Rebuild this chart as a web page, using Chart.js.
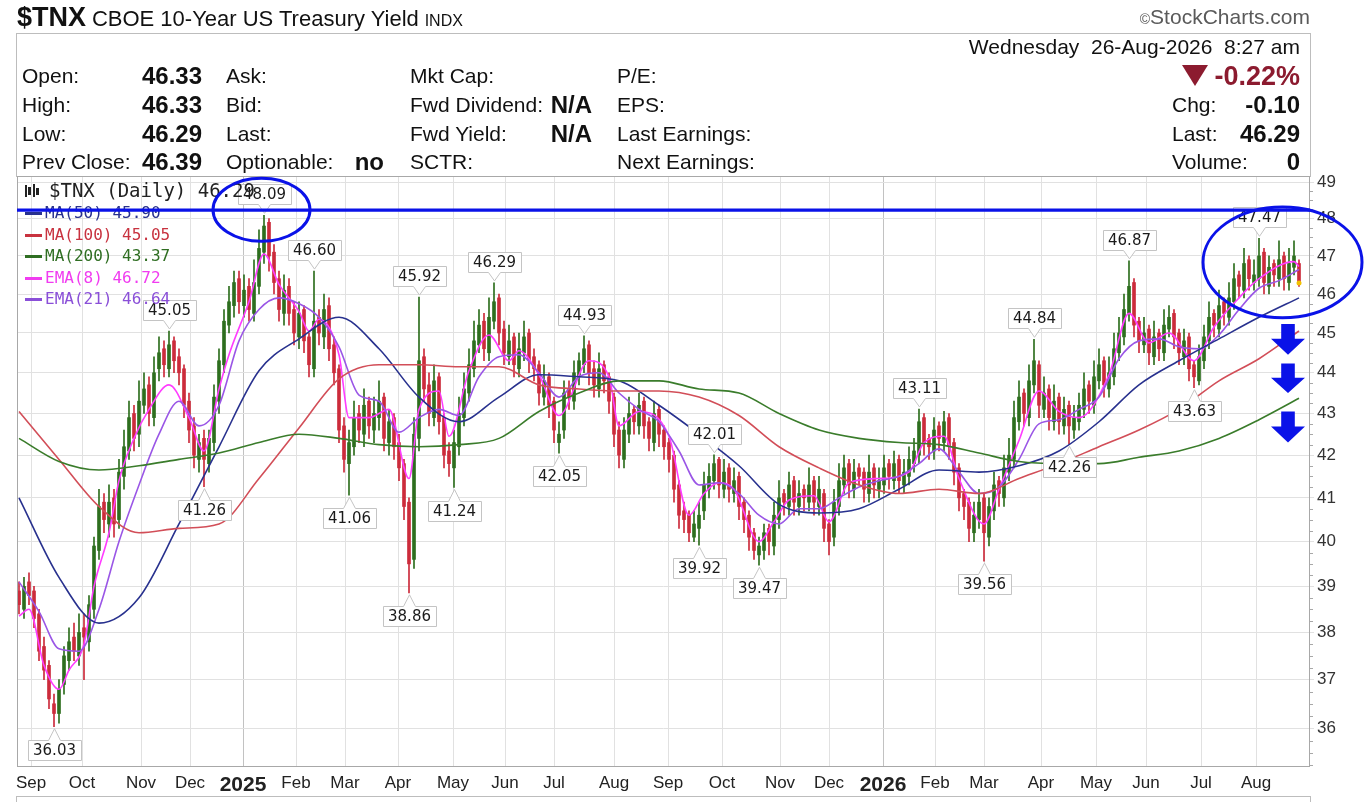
<!DOCTYPE html>
<html>
<head>
<meta charset="utf-8">
<title>$TNX CBOE 10-Year US Treasury Yield</title>
<script src="https://cdn.jsdelivr.net/npm/chart.js@4.4.1/dist/chart.umd.min.js"></script>
<style>
  html, body { margin: 0; padding: 0; background: #fff; }
  body { position: relative; width: 1372px; height: 802px; overflow: hidden;
         font-family: "Liberation Sans", Arial, sans-serif; color: #111; }
  #chartLite { position: absolute; left: 0; top: 0; }
  .box { position: absolute; left: 16px; top: 33px; width: 1293px; height: 143px;
         border: 1px solid #bdbdbd; border-bottom: none; }
  .pane { position: absolute; left: 16px; top: 796px; width: 1293px; height: 20px; border: 1px solid #bdbdbd; }
  .t { position: absolute; white-space: nowrap; line-height: 26px; height: 26px; font-size: 21px; }
  .v { font-weight: bold; font-size: 24px; }
  .chg { font-weight: bold; font-size: 27px; color: #8c1b2f; }
  .tri { display: inline-block; width: 0; height: 0; margin-right: 6px; vertical-align: -1px;
         border-left: 13px solid transparent; border-right: 13px solid transparent; border-top: 21px solid #8c1b2f; }
</style>
</head>
<body>
<canvas id="chartLite" width="1372" height="802" style="width:1372px;height:802px"></canvas>

<div class="t" style="left:17px;top:3px;line-height:29px;height:29px">
  <b style="font-size:27px">$TNX</b>
  <span style="font-size:22px">CBOE 10-Year US Treasury Yield</span>
  <span style="font-size:16px">INDX</span>
</div>
<div class="t" style="right:62px;top:4px;font-size:21px;color:#5a5a5a"><span style="font-size:14px">©</span>StockCharts.com</div>

<div class="box"></div>
<div class="t" style="right:72px;top:34px">Wednesday&nbsp; 26-Aug-2026&nbsp; 8:27 am</div>

<div class="t" style="left:22px;top:63px">Open:</div>
<div class="t v" style="right:1170px;top:63px">46.33</div>
<div class="t" style="left:226px;top:63px">Ask:</div>
<div class="t" style="left:410px;top:63px">Mkt Cap:</div>
<div class="t" style="left:617px;top:63px">P/E:</div>
<div class="t chg" style="right:72px;top:61px;line-height:30px;height:30px"><span class="tri"></span>-0.22%</div>

<div class="t" style="left:22px;top:92px">High:</div>
<div class="t v" style="right:1170px;top:92px">46.33</div>
<div class="t" style="left:226px;top:92px">Bid:</div>
<div class="t" style="left:410px;top:92px">Fwd Dividend:</div>
<div class="t v" style="right:780px;top:92px">N/A</div>
<div class="t" style="left:617px;top:92px">EPS:</div>
<div class="t" style="left:1172px;top:92px">Chg:</div>
<div class="t v" style="right:72px;top:92px">-0.10</div>

<div class="t" style="left:22px;top:121px">Low:</div>
<div class="t v" style="right:1170px;top:121px">46.29</div>
<div class="t" style="left:226px;top:121px">Last:</div>
<div class="t" style="left:410px;top:121px">Fwd Yield:</div>
<div class="t v" style="right:780px;top:121px">N/A</div>
<div class="t" style="left:617px;top:121px">Last Earnings:</div>
<div class="t" style="left:1172px;top:121px">Last:</div>
<div class="t v" style="right:72px;top:121px">46.29</div>

<div class="t" style="left:22px;top:149px">Prev Close:</div>
<div class="t v" style="right:1170px;top:149px">46.39</div>
<div class="t" style="left:226px;top:149px">Optionable:</div>
<div class="t v" style="right:988px;top:149px">no</div>
<div class="t" style="left:410px;top:149px">SCTR:</div>
<div class="t" style="left:617px;top:149px">Next Earnings:</div>
<div class="t" style="left:1172px;top:149px">Volume:</div>
<div class="t v" style="right:72px;top:149px">0</div>

<div class="pane"></div>

<script>
// x axis: one slot per candle (each candle ~2 trading days)
const monthLabels = ['Sep','Oct','Nov','Dec','2025','Feb','Mar','Apr','May','Jun','Jul','Aug',
                     'Sep','Oct','Nov','Dec','2026','Feb','Mar','Apr','May','Jun','Jul','Aug'];
const monthSlots = [2.4,12.6,24.4,34.2,44.8,55.4,65.2,75.8,86.8,97.2,107,119,
                    129.8,140.6,152.2,162,172.8,183.2,193,204.4,215.4,225.4,236.4,247.4];
const yTicks = [36,37,38,39,40,41,42,43,44,45,46,47,48,49];

const opens = [
  38.9,38.5,39.1,38.9,38.4,37.7,37.3,36.5,36.3,36.9,
  37.4,37.9,37.5,38.1,37.8,38.5,39.8,40.9,40.4,41.0,
  40.5,41.5,42.1,43.0,42.5,43.2,43.7,42.9,44.1,44.6,
  44.1,44.8,44.4,44.1,43.3,42.7,41.9,42.4,41.8,42.3,
  43.3,44.2,45.2,45.7,46.4,45.7,46.2,45.5,46.2,47.1,
  47.9,47.1,46.4,45.5,46.2,45.6,44.9,45.6,44.9,44.1,
  45.4,44.9,45.7,44.7,44.1,42.7,41.8,42.2,43.0,42.5,
  43.3,42.6,42.9,43.4,42.3,42.9,42.3,41.8,40.9,39.6,
  42.4,44.4,43.7,42.9,43.9,42.9,42.1,41.7,42.2,42.9,
  43.5,44.1,44.7,45.3,44.5,45.3,45.9,45.1,44.4,44.9,
  44.1,44.5,45.0,44.4,44.2,43.4,43.9,43.3,42.3,42.6,
  43.6,43.3,43.9,44.2,44.7,44.1,43.6,44.2,43.9,43.4,
  42.6,41.9,42.5,43.1,42.7,43.3,42.8,42.3,43.1,42.6,
  42.3,42.0,41.3,40.7,40.6,40.1,40.3,40.7,41.2,41.4,
  41.9,41.2,41.7,41.1,41.5,40.9,40.6,40.2,39.7,39.8,
  40.3,39.9,40.5,41.1,40.8,41.4,40.8,41.2,40.9,41.4,
  40.8,41.1,40.4,40.1,40.8,41.3,41.8,41.2,41.7,41.6,
  41.1,41.7,41.2,41.3,41.8,41.4,41.9,41.3,41.5,41.8,
  42.0,42.9,42.4,42.1,42.7,42.3,42.9,42.3,41.7,41.1,
  40.9,40.2,40.5,41.0,40.1,40.7,41.4,41.0,41.6,41.9,
  42.8,43.5,42.9,43.7,44.2,43.1,43.6,42.8,43.4,42.7,
  43.2,42.6,42.8,43.1,43.7,43.2,43.8,44.3,43.6,43.9,
  44.5,44.9,45.5,46.3,45.3,44.7,45.1,44.4,45.0,44.5,
  45.1,45.5,45.0,44.4,44.9,44.2,43.8,44.3,44.8,45.5,
  45.1,45.8,45.4,45.8,46.5,46.1,46.9,46.3,46.4,47.1,
  46.2,46.8,46.4,47.0,46.3,46.7,46.8
];
const highs = [
  39.1,39.2,39.3,39.0,38.5,37.9,37.4,36.7,37.0,37.7,
  38.1,38.2,38.4,38.4,38.8,40.1,41.2,41.1,41.3,41.2,
  41.9,42.6,43.3,43.2,43.8,44.0,43.9,44.4,44.9,44.8,
  45.05,44.9,44.6,44.2,43.5,42.9,42.5,42.6,42.6,43.7,
  44.6,45.6,46.2,46.6,46.6,46.5,46.4,46.9,47.7,48.09,
  48.0,47.3,46.6,46.5,46.4,45.8,45.8,45.7,45.0,46.60,
  45.6,46.0,45.9,44.9,44.2,42.9,42.6,43.3,43.2,43.6,
  43.4,43.4,43.8,43.5,43.1,43.0,42.5,41.9,41.0,42.9,
  45.92,44.6,44.0,44.2,44.0,43.0,42.3,42.6,43.4,44.0,
  44.6,45.3,45.6,45.5,45.9,46.29,46.0,45.3,45.2,45.0,
  45.0,45.3,45.1,44.6,44.3,44.2,44.0,43.4,42.8,43.8,
  43.8,44.3,44.5,44.93,44.8,44.3,44.5,44.3,44.0,43.5,
  42.8,42.9,43.4,43.2,43.5,43.4,42.9,43.3,43.2,42.7,
  42.4,42.1,41.4,40.9,40.7,40.7,40.9,41.6,41.8,42.01,
  41.95,41.9,41.8,41.7,41.6,41.0,40.7,40.3,40.1,40.4,
  40.4,40.9,41.4,41.2,41.6,41.5,41.4,41.3,41.7,41.5,
  41.5,41.2,40.5,41.2,41.8,42.0,41.9,41.9,41.8,41.7,
  42.0,41.8,41.7,42.0,41.9,42.1,42.0,41.9,42.2,42.4,
  43.11,43.0,42.5,42.9,42.8,43.05,43.0,42.4,41.8,41.2,
  41.0,40.9,41.2,41.1,41.0,41.6,41.5,42.0,42.4,43.3,
  43.8,43.6,44.2,44.84,44.3,43.9,43.7,43.7,43.5,43.4,
  43.3,43.2,43.5,44.0,43.8,44.3,44.6,44.4,44.4,45.0,
  45.4,46.0,46.87,46.4,45.4,45.4,45.2,45.3,45.1,45.6,
  45.7,45.6,45.1,45.1,45.0,44.3,44.7,45.2,45.8,45.6,
  46.1,45.9,46.3,46.8,46.6,47.2,47.0,46.9,47.47,47.2,
  47.0,46.9,47.4,47.1,47.2,47.4,46.9
];
const lows = [
  38.4,38.3,38.6,38.1,37.4,37.0,36.4,36.03,36.1,36.7,
  37.2,37.4,37.3,37.0,37.6,38.3,39.6,40.2,40.1,40.1,
  40.3,41.2,41.9,42.1,42.2,43.0,42.7,42.7,43.8,43.9,
  43.9,44.0,43.7,42.9,42.3,41.7,41.6,41.26,41.6,42.1,
  43.0,44.0,45.0,45.4,45.5,45.4,45.3,45.3,46.0,46.8,
  46.6,46.0,45.3,45.2,45.2,44.7,44.6,44.5,43.9,43.9,
  44.7,44.6,44.3,43.7,42.3,41.6,41.06,42.0,42.3,42.2,
  42.4,42.3,42.6,42.1,42.0,41.9,41.4,40.5,38.86,39.4,
  42.1,43.3,42.7,42.7,42.5,41.7,41.5,41.24,42.0,42.7,
  43.3,43.9,44.5,44.3,44.3,45.1,44.7,44.2,44.2,43.9,
  43.9,44.3,44.0,43.8,43.2,43.2,42.9,42.3,42.05,42.4,
  43.1,43.1,43.7,44.0,43.7,43.4,43.4,43.5,43.0,42.2,
  41.7,41.7,42.3,42.5,42.5,42.4,42.1,42.1,42.2,41.9,
  41.6,40.9,40.3,40.2,40.0,40.0,39.92,40.5,41.0,41.2,
  41.0,41.0,40.9,40.9,40.5,40.2,39.8,39.6,39.47,39.6,
  39.7,39.7,40.3,40.6,40.6,40.6,40.6,40.7,40.7,40.6,
  40.6,40.0,39.7,39.9,40.6,41.1,41.0,41.0,41.3,40.9,
  40.9,41.0,41.0,41.1,41.2,41.2,41.1,41.1,41.3,41.6,
  41.8,42.0,41.9,41.9,42.1,42.1,41.9,41.3,40.7,40.5,
  40.0,40.0,40.3,39.56,39.9,40.5,40.8,40.8,41.4,41.7,
  42.6,42.7,42.7,43.5,42.9,42.9,42.6,42.6,42.5,42.5,
  42.26,42.4,42.6,42.9,43.0,43.0,43.6,43.4,43.4,43.7,
  44.3,44.7,45.3,44.9,44.5,44.5,44.2,44.2,44.3,44.3,
  44.9,44.6,44.2,44.2,43.8,43.63,43.7,44.1,44.6,44.9,
  44.9,45.2,45.2,45.6,45.9,45.9,46.1,46.1,46.2,46.0,
  46.0,46.2,46.2,46.1,46.1,46.5,46.2
];
const closes = [
  38.6,39.0,38.8,38.3,37.6,37.2,36.6,36.3,36.8,37.5,
  37.8,37.6,38.0,37.9,38.6,39.9,40.8,40.5,40.9,40.4,
  41.6,42.2,42.9,42.4,43.3,43.6,43.0,44.0,44.5,44.2,
  44.7,44.3,44.0,43.2,42.6,42.0,42.3,41.9,42.4,43.4,
  44.3,45.3,45.8,46.3,45.8,46.1,45.6,46.3,47.2,47.8,
  47.0,46.3,45.6,46.1,45.5,45.0,45.5,44.8,44.2,45.3,
  45.0,45.6,44.6,44.0,42.6,41.9,42.3,42.9,42.6,43.2,
  42.7,43.0,43.3,42.4,42.8,42.2,41.7,40.8,39.5,42.5,
  44.3,43.6,43.0,43.8,42.8,42.0,41.8,42.3,43.0,43.6,
  44.2,44.8,45.2,44.6,45.4,45.8,45.0,44.5,44.8,44.2,
  44.6,44.9,44.3,44.1,43.5,43.8,43.2,42.6,42.5,43.5,
  43.4,44.0,44.3,44.6,44.0,43.7,44.1,43.8,43.3,42.5,
  42.0,42.6,43.0,42.8,43.2,42.7,42.4,43.0,42.5,42.2,
  41.9,41.2,40.6,40.5,40.2,40.4,40.6,41.3,41.5,41.8,
  41.3,41.6,41.2,41.4,40.8,40.5,40.1,39.8,39.9,40.2,
  40.0,40.6,41.0,40.9,41.3,40.9,41.1,41.0,41.3,40.9,
  41.2,40.3,40.0,40.9,41.4,41.7,41.3,41.6,41.5,41.2,
  41.6,41.3,41.4,41.7,41.5,41.8,41.4,41.6,41.9,42.1,
  42.8,42.3,42.2,42.6,42.4,42.8,42.2,41.6,41.0,40.8,
  40.3,40.6,40.9,40.2,40.8,41.3,41.1,41.7,42.0,42.9,
  43.4,43.0,43.8,44.3,43.2,43.5,42.9,43.3,42.8,43.1,
  42.7,42.9,43.2,43.6,43.3,43.9,44.2,43.7,44.0,44.6,
  45.0,45.6,46.2,45.2,44.8,45.0,44.5,44.9,44.6,45.2,
  45.4,44.9,44.5,44.8,44.1,43.9,44.4,44.9,45.4,45.2,
  45.7,45.5,45.9,46.4,46.2,46.8,46.4,46.5,47.0,46.3,
  46.7,46.5,46.9,46.4,46.8,47.0,46.29
];

// moving averages
const maSlots = [0,8,16,24,32,40,48,56,64,72,80,88,96,104,112,120,128,136,144,152,160,168,176,184,192,200,208,216,224,232,240,248,256];
const ma50 = [41.0,39.2,38.2,38.75,40.4,42.2,44.05,44.85,45.4,44.6,43.4,42.8,43.4,43.95,43.9,43.8,43.2,42.5,41.75,40.85,40.65,40.75,41.2,41.65,41.6,41.75,42.1,42.8,43.7,44.3,44.85,45.4,45.9];
const ma100 = [43.05,41.9,40.8,40.2,40.3,40.4,41.45,42.65,43.85,44.2,44.2,44.15,44.15,43.7,43.6,43.55,43.55,43.4,42.95,42.2,41.7,41.3,41.1,41.2,41.1,41.45,41.8,42.2,42.6,43.1,43.8,44.35,45.05];
const ma200 = [42.4,41.85,41.65,41.75,41.9,42.05,42.3,42.5,42.4,42.25,42.2,42.25,42.4,43.05,43.5,43.8,43.8,43.6,43.5,43.0,42.6,42.4,42.3,42.25,42.05,41.85,41.8,41.8,41.95,42.1,42.4,42.85,43.37];
const ema21Slots = [0,4,8,12,16,20,24,28,32,36,40,44,48,52,56,60,64,68,72,76,80,84,88,92,96,100,104,108,112,116,120,124,128,132,136,140,144,148,152,156,160,164,168,172,176,180,184,188,192,196,200,204,208,212,216,220,224,228,232,236,240,244,248,252,256];
const ema21 = [39.1,38.45,37.65,37.6,38.5,40.0,41.3,42.5,43.3,42.7,43.2,44.8,45.6,45.9,45.75,45.4,44.65,43.45,43.3,42.55,
               42.9,43.1,42.95,43.9,44.4,44.45,44.0,43.4,43.9,44.0,43.5,43.1,42.8,42.1,41.3,41.35,41.1,40.6,40.4,40.75,
               40.75,41.0,41.25,41.4,41.5,41.8,42.15,41.6,41.1,41.25,41.9,42.75,42.85,43.1,43.4,44.35,44.8,44.85,44.65,44.6,
               44.95,45.6,46.15,46.35,46.64];
const ema8Slots = [0,2,5,8,10,13,15,18,20,23,26,30,34,37,40,42,46,49,52,56,58,60,64,66,70,74,78,80,84,86,90,94,98,100,104,
                   108,114,118,120,124,130,134,137,140,143,148,151,154,159,162,166,172,178,181,185,188,193,196,200,204,208,212,
                   218,222,226,230,235,239,244,248,255,256];
const ema8 = [38.35,38.5,37.3,36.8,37.2,37.75,39.0,40.2,41.4,42.4,43.1,43.7,42.9,42.1,43.6,44.45,45.8,47.05,46.25,45.55,
              45.05,45.35,44.45,42.9,42.9,43.1,41.45,43.1,43.55,42.45,44.05,44.95,44.3,44.55,43.95,42.95,44.3,43.9,42.7,43.05,
              42.45,40.6,41.1,41.35,41.2,40.0,40.45,40.95,41.05,40.45,41.35,41.45,41.6,42.3,42.45,41.45,40.4,41.2,42.35,43.55,
              43.05,42.9,43.95,45.5,44.75,45.0,44.3,45.15,45.9,46.4,46.85,46.72];

// extremes that get a price callout: candle slot and high/low
const labelSlots = [7,30,37,49,59,66,78,80,87,95,108,113,136,139,148,180,193,203,210,222,235,248];
const labelKinds = ['l','h','l','h','h','l','l','h','l','h','l','h','l','h','l','h','l','h','l','h','l','h'];

// hand-drawn blue markup, in chart coordinates
const guideLevel = 48.23;
const rings = [
  {x0: 38.8, x1: 58.2, top: 49.11, bottom: 47.39},
  {x0: 236.8, x1: 268.6, top: 48.32, bottom: 45.39}
];
const arrows = [
  {x0: 250.4, x1: 257.2, top: 45.23, bottom: 44.45},
  {x0: 250.4, x1: 257.2, top: 44.23, bottom: 43.50},
  {x0: 250.4, x1: 257.2, top: 43.05, bottom: 42.30}
];

const GREEN = '#2d6e1e', RED = '#cc2b3b';
const C_MA50 = '#28318e', C_MA100 = '#d24e58', C_MA200 = '#3a7c2b', C_EMA8 = '#ff3cff', C_EMA21 = '#9a56e6';
const MARK = '#0a12e8';
const MONO = '"DejaVu Sans Mono", "Liberation Mono", monospace';

const candleColors = closes.map((c, k) => c >= opens[k] ? GREEN : RED);
const wickData = closes.map((c, k) => ({x: k, y: [lows[k], highs[k]]}));
const bodyData = closes.map((c, k) => ({x: k, y: [opens[k], c]}));
const pts = (slots, vals) => slots.map((s, i) => ({x: s, y: vals[i]}));

function maLine(label, slots, vals, color) {
    return {
        type: 'line', label: label, data: pts(slots, vals),
        borderColor: color, borderWidth: 1.6, pointRadius: 0,
        fill: false, cubicInterpolationMode: 'monotone', order: 1
    };
}

const legendRows = [
    {text: '$TNX (Daily) ' + closes[closes.length - 1].toFixed(2), color: '#222', icon: true},
    {text: 'MA(50) ' + ma50[ma50.length - 1].toFixed(2), color: C_MA50},
    {text: 'MA(100) ' + ma100[ma100.length - 1].toFixed(2), color: '#c8323f'},
    {text: 'MA(200) ' + ma200[ma200.length - 1].toFixed(2), color: '#2f6e22'},
    {text: 'EMA(8) ' + ema8[ema8.length - 1].toFixed(2), color: '#f03cf0'},
    {text: 'EMA(21) ' + ema21[ema21.length - 1].toFixed(2), color: '#8a4fd8'}
];

const overlay = {
    id: 'overlay',
    afterDraw(chart) {
        const ctx = chart.ctx, a = chart.chartArea;
        const xs = chart.scales.x, ys = chart.scales.y;
        ctx.save();

        // frame and minor ticks on the price axis
        ctx.strokeStyle = '#a8a8a8';
        ctx.lineWidth = 1;
        ctx.strokeRect(a.left + 0.5, a.top + 0.5, a.right - a.left - 1, a.bottom - a.top);
        ctx.beginPath();
        for (let v = 35.25; v < 49.2; v += 0.25) {
            if (Math.abs(v - Math.round(v)) < 0.01) continue;
            const py = Math.round(ys.getPixelForValue(v)) + 0.5;
            ctx.moveTo(a.right, py);
            ctx.lineTo(a.right + 3, py);
        }
        ctx.stroke();

        // price callouts
        ctx.font = '15px "DejaVu Sans", Verdana, sans-serif';
        ctx.textAlign = 'center';
        ctx.textBaseline = 'middle';
        labelSlots.forEach((k, i) => {
            const hi = labelKinds[i] === 'h';
            const v = hi ? highs[k] : lows[k];
            const px = Math.round(xs.getPixelForValue(k)) + 0.5;
            const py = ys.getPixelForValue(v);
            const txt = v.toFixed(2);
            const w = Math.round(ctx.measureText(txt).width) + 10, h = 20;
            const bx = Math.round(px - w / 2) + 0.5;
            const by = Math.round(hi ? py - 11 - h : py + 13) + 0.5;
            ctx.beginPath();
            if (hi) {
                const e = by + h, tip = py - 2;
                ctx.moveTo(bx, by); ctx.lineTo(bx + w, by); ctx.lineTo(bx + w, e);
                ctx.lineTo(px + 6, e); ctx.lineTo(px, tip); ctx.lineTo(px - 6, e);
                ctx.lineTo(bx, e); ctx.closePath();
            } else {
                const e = by, tip = py + 2;
                ctx.moveTo(bx, e); ctx.lineTo(px - 6, e); ctx.lineTo(px, tip); ctx.lineTo(px + 6, e);
                ctx.lineTo(bx + w, e); ctx.lineTo(bx + w, e + h); ctx.lineTo(bx, e + h); ctx.closePath();
            }
            ctx.fillStyle = '#fff';
            ctx.fill();
            ctx.strokeStyle = '#c4c4c4';
            ctx.stroke();
            ctx.fillStyle = '#1a1a1a';
            ctx.fillText(txt, px, by + h / 2 + 0.5);
        });

        // last close marker
        const last = closes.length - 1;
        ctx.fillStyle = '#f2c200';
        ctx.beginPath();
        ctx.arc(xs.getPixelForValue(last), ys.getPixelForValue(closes[last]), 2.5, 0, Math.PI * 2);
        ctx.fill();

        // legend
        ctx.textAlign = 'left';
        const rowY = [191, 213, 235, 256, 278, 299];
        legendRows.forEach((r, i) => {
            const y = rowY[i];
            if (r.icon) {
                ctx.fillStyle = '#222';
                ctx.fillRect(25, y - 6, 2, 12); ctx.fillRect(28, y - 4, 3, 8);
                ctx.fillRect(33, y - 7, 2, 13); ctx.fillRect(36, y - 3, 3, 7);
                ctx.font = '19px ' + MONO;
            } else {
                ctx.fillStyle = r.color;
                ctx.fillRect(25, y - 1, 17, 3);
                ctx.font = '16px ' + MONO;
            }
            ctx.fillStyle = r.color;
            ctx.fillText(r.text, i === 0 ? 49 : 45, y + 1);
        });

        // blue markup
        ctx.strokeStyle = MARK;
        ctx.lineWidth = 3.2;
        const gy = ys.getPixelForValue(guideLevel);
        ctx.beginPath();
        ctx.moveTo(a.left, gy); ctx.lineTo(a.right, gy);
        ctx.stroke();
        ctx.lineWidth = 3;
        rings.forEach(r => {
            const l = xs.getPixelForValue(r.x0), rr = xs.getPixelForValue(r.x1);
            const t = ys.getPixelForValue(r.top), b = ys.getPixelForValue(r.bottom);
            ctx.beginPath();
            ctx.ellipse((l + rr) / 2, (t + b) / 2, (rr - l) / 2, (b - t) / 2, 0, 0, Math.PI * 2);
            ctx.stroke();
        });
        ctx.fillStyle = MARK;
        arrows.forEach(r => {
            const l = xs.getPixelForValue(r.x0), rr = xs.getPixelForValue(r.x1);
            const t = ys.getPixelForValue(r.top), b = ys.getPixelForValue(r.bottom);
            const cx = (l + rr) / 2, w = rr - l, hy = t + (b - t) * 0.48;
            ctx.beginPath();
            ctx.moveTo(cx - w * 0.2, t); ctx.lineTo(cx + w * 0.2, t); ctx.lineTo(cx + w * 0.2, hy);
            ctx.lineTo(rr, hy); ctx.lineTo(cx, b); ctx.lineTo(l, hy); ctx.lineTo(cx - w * 0.2, hy);
            ctx.closePath();
            ctx.fill();
        });
        ctx.restore();
    }
};

const isYear = i => /^20/.test(monthLabels[i] || '');

const ctx = document.getElementById('chartLite').getContext('2d');
const myChart = new Chart(ctx, {
    type: 'bar',
    data: {
        datasets: [
            maLine('MA(200)', maSlots, ma200, C_MA200),
            maLine('MA(100)', maSlots, ma100, C_MA100),
            maLine('MA(50)', maSlots, ma50, C_MA50),
            maLine('EMA(21)', ema21Slots, ema21, C_EMA21),
            maLine('EMA(8)', ema8Slots, ema8, C_EMA8),
            {type: 'bar', label: 'range', data: wickData, backgroundColor: candleColors,
             barThickness: 1, grouped: false, borderWidth: 0, order: 10},
            {type: 'bar', label: 'body', data: bodyData, backgroundColor: candleColors,
             barThickness: 3, grouped: false, borderWidth: 0, minBarLength: 1, order: 9}
        ]
    },
    options: {
        responsive: false,
        devicePixelRatio: 1,
        animation: false,
        events: [],
        layout: {padding: {left: 17, top: 176, right: 0, bottom: 0}},
        plugins: {legend: {display: false}, tooltip: {enabled: false}},
        scales: {
            x: {
                type: 'linear', min: -0.4, max: 258.2, offset: false,
                grid: {offset: false, drawTicks: false,
                       color: c => isYear(c.index) ? '#c2c2c2' : '#e1e1e1'},
                border: {display: false},
                afterBuildTicks: s => { s.ticks = monthSlots.map(v => ({value: v})); },
                afterFit: s => { s.height = 36; },
                ticks: {
                    autoSkip: false, maxRotation: 0, padding: 7, color: '#222',
                    font: c => isYear(c.index)
                        ? {family: '"Liberation Sans", Arial, sans-serif', size: 21, weight: 'bold'}
                        : {family: '"Liberation Sans", Arial, sans-serif', size: 17},
                    callback: (v, i) => monthLabels[i]
                }
            },
            y: {
                type: 'logarithmic', position: 'right', min: 35.24, max: 49.17,
                grid: {color: '#e1e1e1', drawTicks: true, tickLength: 4},
                border: {display: false},
                afterBuildTicks: s => { s.ticks = yTicks.map(v => ({value: v})); },
                afterFit: s => { s.width = 62; },
                ticks: {padding: 3, color: '#333',
                        font: {family: '"Liberation Sans", Arial, sans-serif', size: 17},
                        callback: v => String(v)}
            }
        }
    },
    plugins: [overlay]
});
</script>
</body>
</html>
